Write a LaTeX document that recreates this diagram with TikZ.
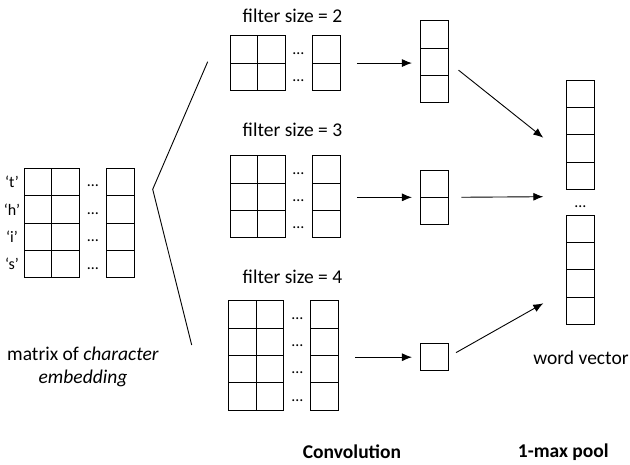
\documentclass[tikz,border=0pt]{standalone}
\usepackage{fontspec}
\setmainfont{Carlito}
\usetikzlibrary{arrows.meta}

\tikzset{
  cell/.style={draw, minimum width=27.5pt, minimum height=27.3pt, inner sep=0pt, outer sep=0pt},
  lbl/.style={font=\fontsize{19.5}{23}\selectfont, inner sep=0pt},
  dots/.style={font=\fontsize{16}{18}\selectfont, inner sep=0pt},
  flow/.style={-{Latex[length=10pt,width=8pt]}}
}

\begin{document}
\begin{tikzpicture}[x=1pt,y=-1pt,line width=0.9pt]
\useasboundingbox (0,0) rectangle (630,464);

% matrix of character embedding
\foreach \r/\ch in {1/t,2/h,3/i,4/s} {
  \node[cell] (ma\r) at (37.8, 154.6+27.4*\r) {};
  \node[cell] (mb\r) at (65.3, 154.6+27.4*\r) {};
  \node[cell] (mr\r) at (120.3, 154.6+27.4*\r) {};
  \node[dots] (md\r) at (93, 158.6+27.4*\r) {…};
  \node[lbl, font=\fontsize{16}{18}\selectfont] (ml\r) at (12, 154.6+27.4*\r) {‘\ch’};
}
\node[lbl, align=center] (mname) at (83, 366.5)
  {matrix of \textit{character}\\\textit{embedding}};

% fan out to the filters
\coordinate (ftop) at (207.7, 61.7);
\coordinate (fmid) at (152.7, 189.3);
\coordinate (fbot) at (191.7, 345);
\draw (ftop) -- (fmid) -- (fbot);

% filter size = 2
\node[lbl] (t2) at (292.5, 16) {filter size = 2};
\foreach \r in {1,2} {
  \node[cell] (f2a\r) at (243.8, 22.1+27.3*\r) {};
  \node[cell] (f2b\r) at (271.3, 22.1+27.3*\r) {};
  \node[cell] (f2r\r) at (326.2, 22.1+27.3*\r) {};
  \node[dots] (f2d\r) at (298.5, 26.1+27.3*\r) {…};
}

% filter size = 3
\node[lbl] (t3) at (292.5, 130) {filter size = 3};
\foreach \r in {1,2,3} {
  \node[cell] (f3a\r) at (243.8, 142.1+27.3*\r) {};
  \node[cell] (f3b\r) at (271.3, 142.1+27.3*\r) {};
  \node[cell] (f3r\r) at (326.2, 142.1+27.3*\r) {};
  \node[dots] (f3d\r) at (298.5, 146.1+27.3*\r) {…};
}

% filter size = 4
\node[lbl] (t4) at (292.5, 276.7) {filter size = 4};
\foreach \r in {1,...,4} {
  \node[cell] (f4a\r) at (242.5, 287.1+27.3*\r) {};
  \node[cell] (f4b\r) at (270, 287.1+27.3*\r) {};
  \node[cell] (f4r\r) at (324.5, 287.1+27.3*\r) {};
  \node[dots] (f4d\r) at (297.5, 291.1+27.3*\r) {…};
}

% feature maps
\foreach \r in {1,2,3}
  \node[cell] (p2\r) at (434.2, 7.1+27.3*\r) {};
\foreach \r in {1,2}
  \node[cell] (p3\r) at (434.2, 156.4+27.3*\r) {};
\node[cell] (p41) at (434.2, 357.2) {};

% word vector
\foreach \r in {1,...,4} {
  \node[cell] (wa\r) at (580.5, 66.4+27.3*\r) {};
  \node[cell] (wb\r) at (580.5, 201.4+27.3*\r) {};
}
\node[dots] (wd) at (580.5, 206.5) {…};
\node[lbl] (wname) at (581, 357.7) {word vector};

% convolution arrows
\coordinate (c2) at (f2r1.south east);
\coordinate (c3) at (p31.south west -| f3r2.east);
\coordinate (c4) at (p41.west -| f4r2.east);
\draw[flow, shorten <=17pt, shorten >=8.5pt] (c2) -- (c2 -| p22.west);
\draw[flow, shorten <=17pt, shorten >=8.5pt] (c3) -- (p31.south west);
\draw[flow, shorten <=17pt, shorten >=8.5pt] (c4) -- (p41.west);

% pooling arrows
\coordinate (in2) at (543.3, 137.7);
\coordinate (in3) at (543.3, 196.7);
\coordinate (in4) at (543.3, 303.3);
\draw[flow, shorten <=13.5pt] (p22.east) -- (in2);
\draw[flow, shorten <=13.5pt] (p31.south east) -- (in3);
\draw[flow, shorten <=9.3pt] (p41.east) -- (in4);

% stage names
\node[lbl, font=\fontsize{19.5}{23}\selectfont\bfseries] (conv) at (352, 451.7) {Convolution};
\node[lbl, font=\fontsize{19.5}{23}\selectfont\bfseries] (pool) at (563.3, 451.7) {1-max pool};
\end{tikzpicture}
\end{document}
